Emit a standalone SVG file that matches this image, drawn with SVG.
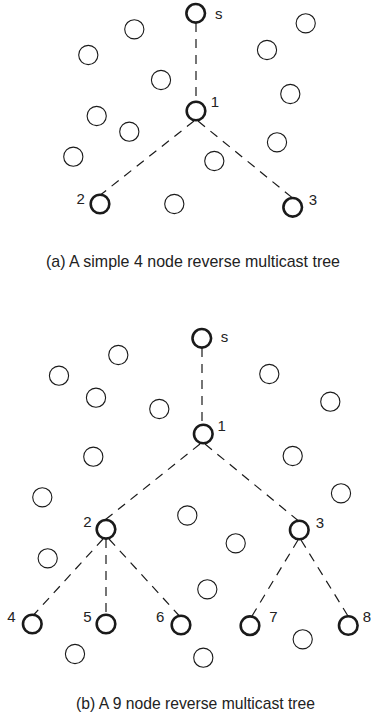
<svg xmlns="http://www.w3.org/2000/svg" width="371" height="717" viewBox="0 0 371 717">
  <style>
    .bg { fill: #ffffff; }
    .node { fill: none; stroke: #1a1a1a; stroke-width: 1.1; }
    .tree { fill: none; stroke: #1a1a1a; stroke-width: 2.6; }
    .link { stroke: #1a1a1a; stroke-width: 1.2; stroke-dasharray: 9 7; fill: none; }
    .lbl { font-family: "Liberation Sans", Arial, sans-serif; font-size: 15px; fill: #222; text-anchor: middle; }
    .cap { font-family: "Liberation Sans", Arial, sans-serif; font-size: 15.7px; fill: #222; }
  </style>
  <rect class="bg" x="0" y="0" width="371" height="717"/>

  <!-- (a) four node tree -->
  <g id="tree-a">
    <g id="a-links">
      <line class="link" x1="196" y1="23" x2="196" y2="101"/>
      <line class="link" x1="194" y1="121" x2="101" y2="194.5"/>
      <line class="link" x1="198" y1="121" x2="292" y2="197.5"/>
    </g>
    <g id="a-others">
      <circle class="node" cx="134.3" cy="29.3" r="9.6"/>
      <circle class="node" cx="305.7" cy="23.3" r="9.6"/>
      <circle class="node" cx="88.3" cy="55" r="9.6"/>
      <circle class="node" cx="267" cy="50" r="9.6"/>
      <circle class="node" cx="161" cy="80" r="9.6"/>
      <circle class="node" cx="290.3" cy="94" r="9.6"/>
      <circle class="node" cx="96.7" cy="116" r="9.6"/>
      <circle class="node" cx="129.3" cy="131.7" r="9.6"/>
      <circle class="node" cx="277" cy="142.3" r="9.6"/>
      <circle class="node" cx="73.3" cy="156.7" r="9.6"/>
      <circle class="node" cx="214.3" cy="161" r="9.6"/>
      <circle class="node" cx="174.3" cy="204" r="9.6"/>
    </g>
    <g id="a-s">
      <circle class="tree" cx="195.7" cy="13.3" r="9.3"/>
      <text class="lbl" x="218.8" y="19.3">s</text>
    </g>
    <g id="a-1">
      <circle class="tree" cx="196" cy="111" r="9.3"/>
      <text class="lbl" x="215" y="107.3">1</text>
    </g>
    <g id="a-2">
      <circle class="tree" cx="100" cy="204" r="9.3"/>
      <text class="lbl" x="80.7" y="204">2</text>
    </g>
    <g id="a-3">
      <circle class="tree" cx="292.7" cy="207.3" r="9.3"/>
      <text class="lbl" x="313" y="205">3</text>
    </g>
    <text class="cap" x="46" y="266.5" textLength="294" lengthAdjust="spacingAndGlyphs">(a) A simple 4 node reverse multicast tree</text>
  </g>

  <!-- (b) nine node tree -->
  <g id="tree-b">
    <g id="b-links">
      <line class="link" x1="202" y1="348" x2="202" y2="424"/>
      <line class="link" x1="200" y1="444" x2="105" y2="520"/>
      <line class="link" x1="205" y1="444" x2="298" y2="520.5"/>
      <line class="link" x1="103" y1="539" x2="34" y2="614.5"/>
      <line class="link" x1="106" y1="539" x2="106" y2="614.5"/>
      <line class="link" x1="109" y1="539" x2="179" y2="615.5"/>
      <line class="link" x1="298" y1="540" x2="252" y2="616"/>
      <line class="link" x1="301" y1="540" x2="348" y2="616"/>
    </g>
    <g id="b-others">
      <circle class="node" cx="118.3" cy="355" r="9.6"/>
      <circle class="node" cx="59" cy="375.7" r="9.6"/>
      <circle class="node" cx="269.3" cy="374" r="9.6"/>
      <circle class="node" cx="96" cy="397.7" r="9.6"/>
      <circle class="node" cx="159.3" cy="409" r="9.6"/>
      <circle class="node" cx="330.3" cy="401.7" r="9.6"/>
      <circle class="node" cx="93.3" cy="456.7" r="9.6"/>
      <circle class="node" cx="292.7" cy="456" r="9.6"/>
      <circle class="node" cx="42.3" cy="497.3" r="9.6"/>
      <circle class="node" cx="341" cy="493.3" r="9.6"/>
      <circle class="node" cx="187.3" cy="515.5" r="9.6"/>
      <circle class="node" cx="235.7" cy="543.3" r="9.6"/>
      <circle class="node" cx="47.7" cy="558.3" r="9.6"/>
      <circle class="node" cx="207.3" cy="589.3" r="9.6"/>
      <circle class="node" cx="302.7" cy="639.3" r="9.6"/>
      <circle class="node" cx="75" cy="654" r="9.6"/>
      <circle class="node" cx="203.3" cy="657.7" r="9.6"/>
    </g>
    <g id="b-s">
      <circle class="tree" cx="201.8" cy="338.3" r="9.3"/>
      <text class="lbl" x="224.5" y="342">s</text>
    </g>
    <g id="b-1">
      <circle class="tree" cx="203.3" cy="434" r="9.3"/>
      <text class="lbl" x="221.7" y="430.5">1</text>
    </g>
    <g id="b-2">
      <circle class="tree" cx="106" cy="529.3" r="9.3"/>
      <text class="lbl" x="87.5" y="526.7">2</text>
    </g>
    <g id="b-3">
      <circle class="tree" cx="299.3" cy="530" r="9.3"/>
      <text class="lbl" x="320" y="528">3</text>
    </g>
    <g id="b-4">
      <circle class="tree" cx="32.3" cy="624" r="9.3"/>
      <text class="lbl" x="11.5" y="621.7">4</text>
    </g>
    <g id="b-5">
      <circle class="tree" cx="106" cy="624" r="9.3"/>
      <text class="lbl" x="87.5" y="621.7">5</text>
    </g>
    <g id="b-6">
      <circle class="tree" cx="181" cy="625" r="9.3"/>
      <text class="lbl" x="160.2" y="621.7">6</text>
    </g>
    <g id="b-7">
      <circle class="tree" cx="250" cy="625.7" r="9.3"/>
      <text class="lbl" x="273.3" y="621.7">7</text>
    </g>
    <g id="b-8">
      <circle class="tree" cx="348.3" cy="625.5" r="9.3"/>
      <text class="lbl" x="366.8" y="621.7">8</text>
    </g>
    <text class="cap" x="76" y="709" textLength="239" lengthAdjust="spacingAndGlyphs">(b) A 9 node reverse multicast tree</text>
  </g>
</svg>
